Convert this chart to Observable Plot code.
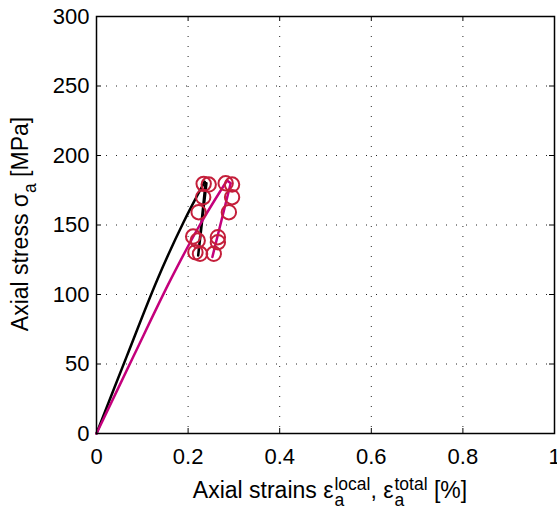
<!DOCTYPE html>
<html>
<head>
<meta charset="utf-8">
<script src="https://cdn.jsdelivr.net/npm/d3@7"></script>
<script src="https://cdn.jsdelivr.net/npm/@observablehq/plot@0.6"></script>
<style>
  html, body { margin: 0; padding: 0; background: #fff; }
  #chart { width: 557px; height: 516px; }
</style>
</head>
<body>
<div id="chart"></div>
<script>
// ---- data ----
const xTicks = [0, 0.2, 0.4, 0.6, 0.8, 1];
const yTicks = [0, 50, 100, 150, 200, 250, 300];

// local strain (black): monotonic loading, then unload/reload cycle 180 <-> 128 MPa
const localLoadStrain = [0, 0.066, 0.1325, 0.19, 0.236];
const localLoadStress = [0, 55.5, 110.5, 152, 181];
const localCycleStrain = [0.236, 0.238, 0.222, 0.240];
const localCycleStress = [181, 180, 128, 180];

// total strain (magenta)
const totalLoadStrain = [0, 0.08, 0.1616, 0.2256, 0.285];
const totalLoadStress = [0, 55, 110.5, 150, 182];
const totalCycleStrain = [0.285, 0.293, 0.253, 0.293];
const totalCycleStress = [182, 180, 127, 180];

// cycle markers (circles)
const localMarkStrain = [0.234, 0.245, 0.233, 0.223, 0.211, 0.221, 0.216, 0.226];
const localMarkStress = [179.6, 179.1, 170, 159.2, 141.7, 138.8, 130.4, 129.3];
const totalMarkStrain = [0.282, 0.296, 0.296, 0.289, 0.265, 0.265, 0.256];
const totalMarkStress = [180, 179.1, 170, 159.2, 141.2, 137.6, 129.3];

// ---- build tables ----
const zip = (xs, ys) => xs.map((x, i) => ({x, y: ys[i]}));
const marks = zip(localMarkStrain, localMarkStress).concat(zip(totalMarkStrain, totalMarkStress));

const W = 557, H = 516, mL = 96, mR = 3, mT = 16, mB = 83;
const pw = W - mL - mR, ph = H - mT - mB;
const FONT = "'Liberation Sans', Arial, Helvetica, sans-serif";
const fmt = d => String(d);
const gridStyle = {stroke: "#000", strokeOpacity: 0.85, strokeWidth: 1, strokeDasharray: "1,9"};
const BLACK = "#000", MAGENTA = "#c4007c", CRIMSON = "#c41e3a";

const plot = Plot.plot({
  width: W, height: H,
  marginLeft: mL, marginRight: mR, marginTop: mT, marginBottom: mB,
  style: {fontFamily: FONT, fontSize: "22px", background: "#fff", color: "#000", overflow: "visible"},
  x: {domain: [0, 1]},
  y: {domain: [0, 300]},
  marks: [
    Plot.gridX(xTicks.slice(1, -1), gridStyle),
    Plot.gridY(yTicks.slice(1, -1), gridStyle),
    // inward ticks on all four sides
    Plot.ruleX(xTicks, {x: d => d, insetTop: ph - 5, stroke: "#000"}),
    Plot.ruleX(xTicks, {x: d => d, insetBottom: ph - 5, stroke: "#000"}),
    Plot.ruleY(yTicks, {y: d => d, insetRight: pw - 5, stroke: "#000"}),
    Plot.ruleY(yTicks, {y: d => d, insetLeft: pw - 5, stroke: "#000"}),
    Plot.line(zip(localLoadStrain, localLoadStress), {x: "x", y: "y", stroke: BLACK, strokeWidth: 2.5, curve: "catmull-rom"}),
    Plot.line(zip(localCycleStrain, localCycleStress), {x: "x", y: "y", stroke: BLACK, strokeWidth: 2.5}),
    Plot.line(zip(totalLoadStrain, totalLoadStress), {x: "x", y: "y", stroke: MAGENTA, strokeWidth: 2.5, curve: "catmull-rom"}),
    Plot.line(zip(totalCycleStrain, totalCycleStress), {x: "x", y: "y", stroke: MAGENTA, strokeWidth: 2.5}),
    Plot.dot(marks, {x: "x", y: "y", r: 7.2, stroke: CRIMSON, strokeWidth: 2, fill: "none"}),
    Plot.frame({stroke: "#000", strokeWidth: 1.5}),
    Plot.axisX(xTicks, {tickSize: 0, tickPadding: 15, tickFormat: fmt, label: null, fontSize: 22}),
    Plot.axisY(yTicks, {tickSize: 0, tickPadding: 7, tickFormat: fmt, label: null, fontSize: 22})
  ]
});
document.getElementById("chart").appendChild(plot);

// ---- axis titles with sub/superscripts ----
const ctx = document.createElement("canvas").getContext("2d");
const measure = (txt, size) => { ctx.font = `${size}px ${FONT}`; return ctx.measureText(txt).width; };
const svg = d3.select(plot);
const BIG = 23, SMALL = 17.5;
function layout(pieces) {
  let cx = 0; const out = [];
  for (const p of pieces) {
    if (p.kind === "n") { out.push({t: p.t, x: cx, dy: 0, size: BIG}); cx += measure(p.t, BIG); }
    else if (p.kind === "sub") { out.push({t: p.t, x: cx, dy: 8, size: SMALL}); cx += measure(p.t, SMALL); }
    else if (p.kind === "stack") {
      out.push({t: p.sub, x: cx + 1, dy: 8, size: SMALL});
      out.push({t: p.sup, x: cx + 1, dy: -8, size: SMALL});
      cx += Math.max(measure(p.sub, SMALL), measure(p.sup, SMALL)) + 1;
    }
  }
  return {out, width: cx};
}
function draw(g, items) {
  for (const it of items) {
    g.append("text").attr("x", it.x).attr("y", it.dy).attr("text-anchor", "start")
      .attr("font-size", it.size).attr("font-family", FONT).attr("fill", "#000").text(it.t);
  }
}
// x title
const lx = layout([
  {kind: "n", t: "Axial strains ε"},
  {kind: "stack", sub: "a", sup: "local"},
  {kind: "n", t: ", ε"},
  {kind: "stack", sub: "a", sup: "total"},
  {kind: "n", t: " [%]"}
]);
const gx = svg.append("g").attr("transform", `translate(${330 - lx.width / 2},498)`);
draw(gx, lx.out);
// y title
const ly = layout([
  {kind: "n", t: "Axial stress σ"},
  {kind: "sub", t: "a"},
  {kind: "n", t: " [MPa]"}
]);
const gy = svg.append("g").attr("transform", `translate(28,${224 + ly.width / 2}) rotate(-90)`);
draw(gy, ly.out);
</script>
</body>
</html>
